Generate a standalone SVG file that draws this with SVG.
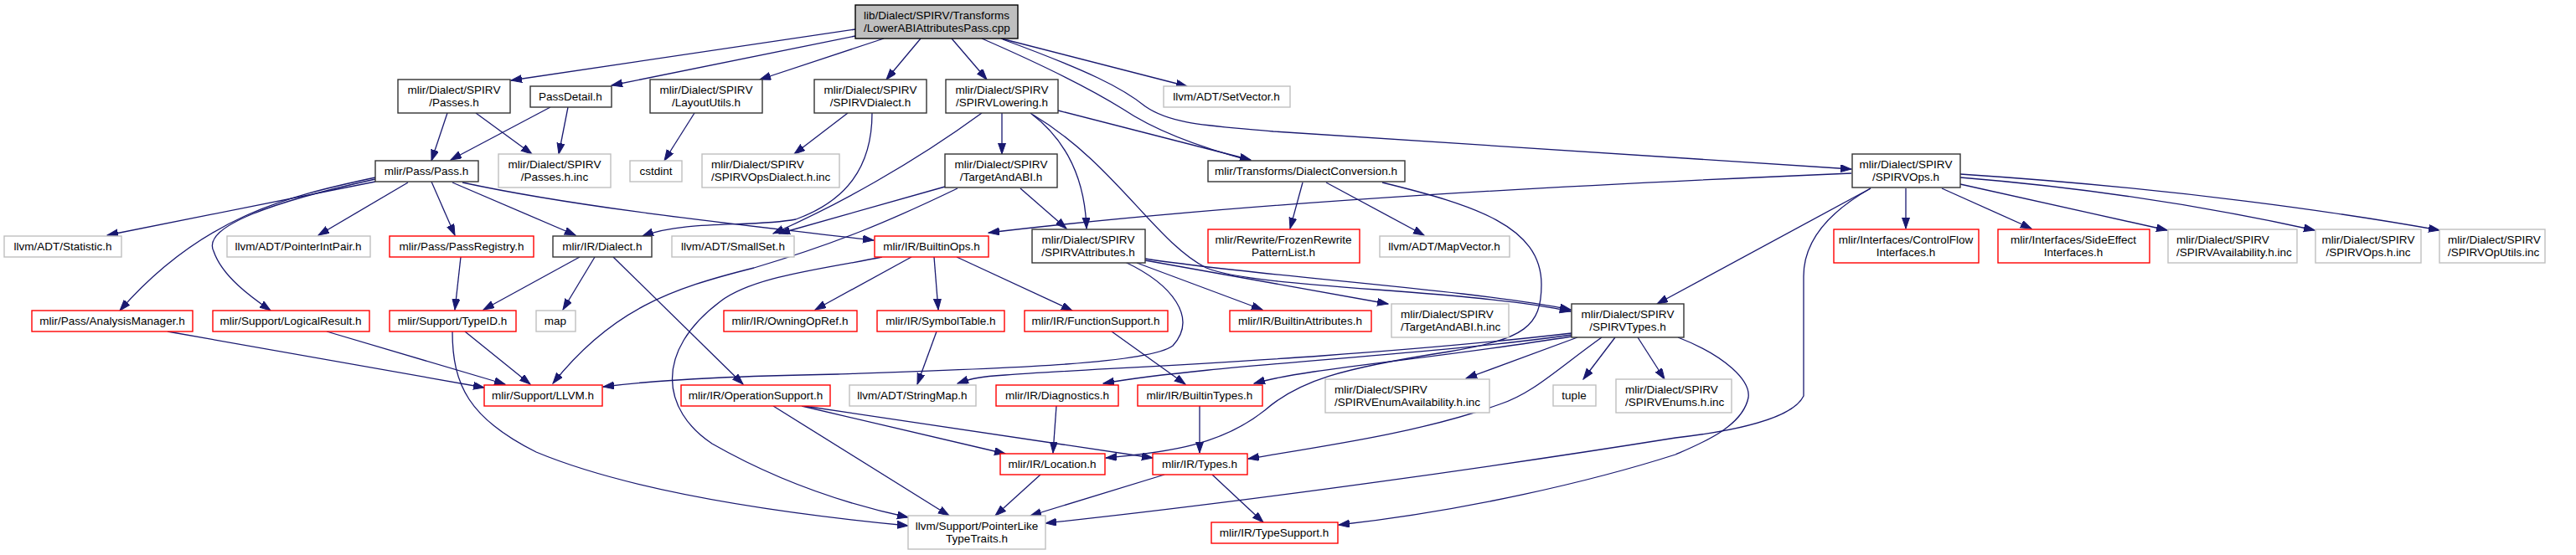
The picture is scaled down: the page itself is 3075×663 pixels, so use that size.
<svg xmlns="http://www.w3.org/2000/svg" width="3075" height="663" viewBox="0 0 3075 663">
<style>
rect{fill:#fff;stroke-width:1.4}
.blk{stroke:#333}
.gry{stroke:#bfbfbf}
.red{stroke:#ff0000}
.root{fill:#bfbfbf;stroke:#000}
text{font-family:"Liberation Sans",Arial,sans-serif;font-size:13.5px;fill:#000;text-anchor:middle}
text.l{text-anchor:start}
#edges path{fill:none;stroke:#191970;stroke-width:1.3;marker-end:url(#ah)}
</style>
<defs>
<marker id="ah" markerUnits="userSpaceOnUse" markerWidth="14" markerHeight="10" refX="13" refY="4.5" orient="auto">
<path d="M0,0 L13,4.5 L0,9 z" fill="#191970" stroke="#191970" stroke-width="1"/>
</marker>
</defs>
<rect x="0" y="0" width="3075" height="663" style="fill:#fff;stroke:none"/>
<g id="edges">
<path d="M1021,35 L610,96"/>
<path d="M1021,43 L730,102"/>
<path d="M1055,46 L907,95"/>
<path d="M1099,46 L1058,95"/>
<path d="M1136,46 L1178,95"/>
<path d="M1195,46 L1417,103"/>
<path d="M1172,46 C1250,80 1300,105 1340,130 C1380,157 1440,178 1493,192"/>
<path d="M1197,47 C1300,85 1340,105 1367,127 C1400,150 1450,150 1520,157 L2210,202"/>
<path d="M1263,132 L1493,191"/>
<path d="M1196,135 L1196,184"/>
<path d="M1230,135 C1270,165 1295,210 1297,273"/>
<path d="M1233,137 C1330,195 1380,290 1440,320 C1500,345 1750,345 1875,372"/>
<path d="M1172,135 C1090,195 1000,245 923,279"/>
<path d="M1128,223 L930,279"/>
<path d="M1143,225 C1060,265 1000,290 900,320 C800,345 730,370 660,458"/>
<path d="M1218,225 L1273,273"/>
<path d="M1012,135 L948,184"/>
<path d="M1041,135 C1041,200 1010,240 950,262 C900,272 820,262 767,282"/>
<path d="M829,135 L793,192"/>
<path d="M534,135 L515,192"/>
<path d="M568,135 L635,184"/>
<path d="M657,128 L538,191"/>
<path d="M678,128 L667,184"/>
<path d="M448,217 L128,281"/>
<path d="M448,212 C340,235 240,260 143,371"/>
<path d="M448,214 C330,240 240,270 255,300 C265,330 300,355 323,371"/>
<path d="M487,218 L380,281"/>
<path d="M515,217 L543,281"/>
<path d="M540,218 L687,281"/>
<path d="M552,218 C700,250 900,270 1043,287"/>
<path d="M550,307 L543,370"/>
<path d="M692,307 L577,370"/>
<path d="M710,307 L672,370"/>
<path d="M732,307 L887,459"/>
<path d="M555,396 L633,459"/>
<path d="M540,396 C540,460 560,500 640,540 C760,590 950,615 1084,628"/>
<path d="M200,396 L578,463"/>
<path d="M390,396 L603,459"/>
<path d="M1088,307 L973,370"/>
<path d="M1115,307 L1120,370"/>
<path d="M1142,307 L1280,371"/>
<path d="M1053,307 C980,322 900,330 860,360 C780,420 790,490 850,530 C920,570 1000,600 1084,618"/>
<path d="M1343,313 C1400,340 1430,380 1400,413 C1370,435 1200,440 1000,447 C900,449 800,452 720,462"/>
<path d="M1357,314 L1507,370"/>
<path d="M1367,311 L1657,363"/>
<path d="M1367,309 C1500,330 1750,345 1875,370"/>
<path d="M1876,398 C1600,430 1300,440 1200,448 C1170,450 1160,452 1143,458"/>
<path d="M1876,400 C1700,425 1450,435 1317,458"/>
<path d="M1876,402 C1700,430 1560,440 1497,458"/>
<path d="M1883,403 L1750,452"/>
<path d="M1912,403 C1860,440 1830,470 1790,483 C1700,515 1600,530 1490,548"/>
<path d="M1928,403 L1890,453"/>
<path d="M1955,403 L1987,453"/>
<path d="M2003,403 C2060,425 2090,455 2087,475 C2080,510 2030,530 2000,543 C1900,575 1750,610 1598,627"/>
<path d="M1650,218 C1760,245 1840,270 1840,340 C1840,390 1820,405 1730,420 C1600,440 1550,455 1510,490 C1460,530 1400,540 1320,547"/>
<path d="M1555,218 L1540,273"/>
<path d="M1583,218 L1700,281"/>
<path d="M923,485 L1133,616"/>
<path d="M957,485 L1200,542"/>
<path d="M960,485 L1376,547"/>
<path d="M1118,396 L1095,459"/>
<path d="M1327,396 L1415,459"/>
<path d="M1261,485 L1257,541"/>
<path d="M1432,485 L1432,541"/>
<path d="M1242,567 L1188,616"/>
<path d="M1390,567 L1230,616"/>
<path d="M1447,567 L1508,624"/>
<path d="M2275,225 L2275,273"/>
<path d="M2318,225 L2425,273"/>
<path d="M2340,220 L2587,275"/>
<path d="M2340,212 C2500,225 2650,250 2763,275"/>
<path d="M2340,208 C2600,225 2800,255 2912,275"/>
<path d="M2233,225 L1978,363"/>
<path d="M2233,225 C2180,255 2153,290 2153,330 L2153,473 C2140,500 2070,515 2000,523 C1800,555 1500,598 1248,625"/>
<path d="M2210,207 C1900,220 1500,240 1180,278"/>
</g>
<g id="root"><rect class="root" x="1021" y="6" width="194" height="40"/><text class="l" x="1031" y="23">lib/Dialect/SPIRV/Transforms</text><text class="l" x="1031" y="38">/LowerABIAttributesPass.cpp</text></g>
<g id="passes"><rect class="blk" x="475" y="95" width="134" height="40"/><text x="542" y="112">mlir/Dialect/SPIRV</text><text x="542" y="127">/Passes.h</text></g>
<g id="passdetail"><rect class="blk" x="633" y="103" width="97" height="25"/><text x="681" y="120">PassDetail.h</text></g>
<g id="layoututils"><rect class="blk" x="776" y="95" width="134" height="40"/><text x="843" y="112">mlir/Dialect/SPIRV</text><text x="843" y="127">/LayoutUtils.h</text></g>
<g id="spirvdialect"><rect class="blk" x="972" y="95" width="134" height="40"/><text x="1039" y="112">mlir/Dialect/SPIRV</text><text x="1039" y="127">/SPIRVDialect.h</text></g>
<g id="spirvlowering"><rect class="blk" x="1129" y="95" width="134" height="40"/><text x="1196" y="112">mlir/Dialect/SPIRV</text><text x="1196" y="127">/SPIRVLowering.h</text></g>
<g id="setvector"><rect class="gry" x="1389" y="103" width="151" height="25"/><text x="1464" y="120">llvm/ADT/SetVector.h</text></g>
<g id="pass"><rect class="blk" x="448" y="192" width="123" height="25"/><text x="509" y="209">mlir/Pass/Pass.h</text></g>
<g id="passesinc"><rect class="gry" x="595" y="184" width="134" height="40"/><text x="662" y="201">mlir/Dialect/SPIRV</text><text x="662" y="216">/Passes.h.inc</text></g>
<g id="cstdint"><rect class="gry" x="752" y="192" width="62" height="25"/><text x="783" y="209">cstdint</text></g>
<g id="opsdialectinc"><rect class="gry" x="838" y="184" width="164" height="40"/><text class="l" x="849" y="201">mlir/Dialect/SPIRV</text><text class="l" x="849" y="216">/SPIRVOpsDialect.h.inc</text></g>
<g id="targetandabi"><rect class="blk" x="1128" y="184" width="134" height="40"/><text x="1195" y="201">mlir/Dialect/SPIRV</text><text x="1195" y="216">/TargetAndABI.h</text></g>
<g id="dialectconv"><rect class="blk" x="1442" y="192" width="235" height="25"/><text x="1559" y="209">mlir/Transforms/DialectConversion.h</text></g>
<g id="spirvops"><rect class="blk" x="2211" y="184" width="129" height="40"/><text x="2275" y="201">mlir/Dialect/SPIRV</text><text x="2275" y="216">/SPIRVOps.h</text></g>
<g id="statistic"><rect class="gry" x="5" y="282" width="140" height="25"/><text x="75" y="299">llvm/ADT/Statistic.h</text></g>
<g id="pointerintpair"><rect class="gry" x="271" y="282" width="171" height="25"/><text x="356" y="299">llvm/ADT/PointerIntPair.h</text></g>
<g id="passregistry"><rect class="red" x="465" y="282" width="172" height="25"/><text x="551" y="299">mlir/Pass/PassRegistry.h</text></g>
<g id="dialect"><rect class="blk" x="660" y="282" width="118" height="25"/><text x="719" y="299">mlir/IR/Dialect.h</text></g>
<g id="smallset"><rect class="gry" x="802" y="282" width="146" height="25"/><text x="875" y="299">llvm/ADT/SmallSet.h</text></g>
<g id="builtinops"><rect class="red" x="1044" y="282" width="136" height="25"/><text x="1112" y="299">mlir/IR/BuiltinOps.h</text></g>
<g id="spirvattr"><rect class="blk" x="1232" y="274" width="135" height="40"/><text x="1299" y="291">mlir/Dialect/SPIRV</text><text x="1299" y="306">/SPIRVAttributes.h</text></g>
<g id="frozen"><rect class="red" x="1442" y="274" width="181" height="40"/><text x="1532" y="291">mlir/Rewrite/FrozenRewrite</text><text x="1532" y="306">PatternList.h</text></g>
<g id="mapvector"><rect class="gry" x="1647" y="282" width="155" height="25"/><text x="1724" y="299">llvm/ADT/MapVector.h</text></g>
<g id="controlflow"><rect class="red" x="2189" y="274" width="173" height="40"/><text x="2275" y="291">mlir/Interfaces/ControlFlow</text><text x="2275" y="306">Interfaces.h</text></g>
<g id="sideeffect"><rect class="red" x="2385" y="274" width="181" height="40"/><text x="2475" y="291">mlir/Interfaces/SideEffect</text><text x="2475" y="306">Interfaces.h</text></g>
<g id="availinc"><rect class="gry" x="2588" y="274" width="154" height="40"/><text class="l" x="2598" y="291">mlir/Dialect/SPIRV</text><text class="l" x="2598" y="306">/SPIRVAvailability.h.inc</text></g>
<g id="opsinc"><rect class="gry" x="2764" y="274" width="126" height="40"/><text x="2827" y="291">mlir/Dialect/SPIRV</text><text x="2827" y="306">/SPIRVOps.h.inc</text></g>
<g id="oputils"><rect class="gry" x="2912" y="274" width="126" height="40"/><text class="l" x="2922" y="291">mlir/Dialect/SPIRV</text><text class="l" x="2922" y="306">/SPIRVOpUtils.inc</text></g>
<g id="analysis"><rect class="red" x="38" y="371" width="192" height="25"/><text x="134" y="388">mlir/Pass/AnalysisManager.h</text></g>
<g id="logical"><rect class="red" x="254" y="371" width="187" height="25"/><text x="347" y="388">mlir/Support/LogicalResult.h</text></g>
<g id="typeid"><rect class="red" x="465" y="371" width="151" height="25"/><text x="540" y="388">mlir/Support/TypeID.h</text></g>
<g id="map"><rect class="gry" x="640" y="371" width="47" height="25"/><text x="663" y="388">map</text></g>
<g id="owning"><rect class="red" x="864" y="371" width="159" height="25"/><text x="943" y="388">mlir/IR/OwningOpRef.h</text></g>
<g id="symtab"><rect class="red" x="1047" y="371" width="152" height="25"/><text x="1123" y="388">mlir/IR/SymbolTable.h</text></g>
<g id="funcsupport"><rect class="red" x="1223" y="371" width="171" height="25"/><text x="1308" y="388">mlir/IR/FunctionSupport.h</text></g>
<g id="builtinattr"><rect class="red" x="1468" y="371" width="169" height="25"/><text x="1552" y="388">mlir/IR/BuiltinAttributes.h</text></g>
<g id="tabiinc"><rect class="gry" x="1661" y="363" width="140" height="40"/><text class="l" x="1672" y="380">mlir/Dialect/SPIRV</text><text class="l" x="1672" y="395">/TargetAndABI.h.inc</text></g>
<g id="spirvtypes"><rect class="blk" x="1876" y="363" width="134" height="40"/><text x="1943" y="380">mlir/Dialect/SPIRV</text><text x="1943" y="395">/SPIRVTypes.h</text></g>
<g id="llvm"><rect class="red" x="578" y="460" width="141" height="25"/><text x="648" y="477">mlir/Support/LLVM.h</text></g>
<g id="opsupport"><rect class="red" x="813" y="460" width="178" height="25"/><text x="902" y="477">mlir/IR/OperationSupport.h</text></g>
<g id="stringmap"><rect class="gry" x="1014" y="460" width="151" height="25"/><text x="1089" y="477">llvm/ADT/StringMap.h</text></g>
<g id="diag"><rect class="red" x="1189" y="460" width="146" height="25"/><text x="1262" y="477">mlir/IR/Diagnostics.h</text></g>
<g id="builtintypes"><rect class="red" x="1358" y="460" width="149" height="25"/><text x="1432" y="477">mlir/IR/BuiltinTypes.h</text></g>
<g id="enumavail"><rect class="gry" x="1582" y="453" width="196" height="40"/><text class="l" x="1593" y="470">mlir/Dialect/SPIRV</text><text class="l" x="1593" y="485">/SPIRVEnumAvailability.h.inc</text></g>
<g id="tuple"><rect class="gry" x="1854" y="460" width="51" height="25"/><text x="1879" y="477">tuple</text></g>
<g id="enumsinc"><rect class="gry" x="1929" y="453" width="138" height="40"/><text class="l" x="1940" y="470">mlir/Dialect/SPIRV</text><text class="l" x="1940" y="485">/SPIRVEnums.h.inc</text></g>
<g id="location"><rect class="red" x="1194" y="542" width="125" height="25"/><text x="1256" y="559">mlir/IR/Location.h</text></g>
<g id="types"><rect class="red" x="1376" y="542" width="113" height="25"/><text x="1432" y="559">mlir/IR/Types.h</text></g>
<g id="pointerlike"><rect class="gry" x="1084" y="616" width="164" height="40"/><text x="1166" y="633">llvm/Support/PointerLike</text><text x="1166" y="648">TypeTraits.h</text></g>
<g id="typesupport"><rect class="red" x="1446" y="624" width="151" height="25"/><text x="1521" y="641">mlir/IR/TypeSupport.h</text></g>
</svg>
